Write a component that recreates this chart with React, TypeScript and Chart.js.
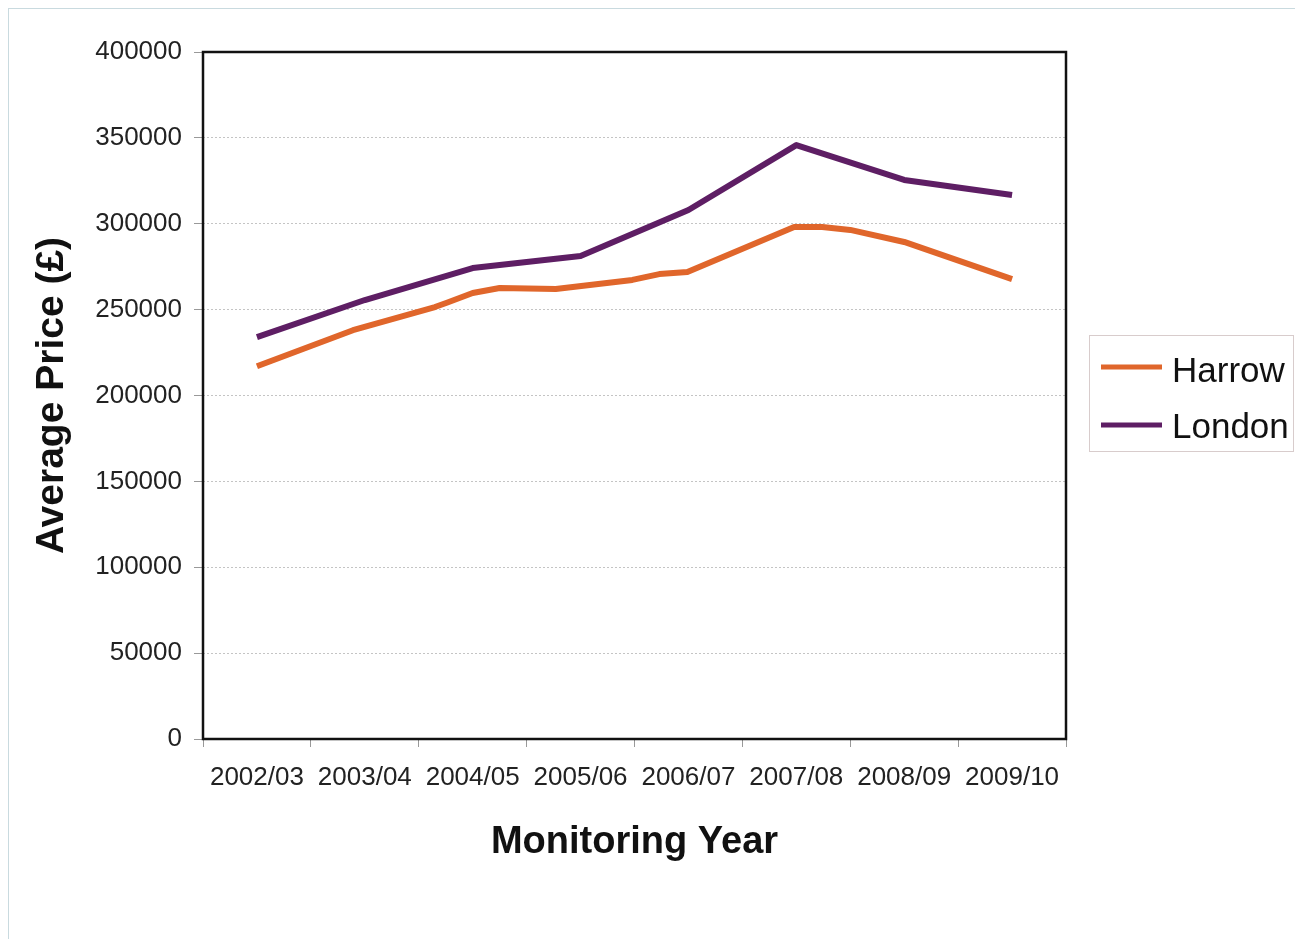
import React, { useEffect, useRef } from "react";
import { Chart, registerables } from "chart.js";

Chart.register(...registerables);

const categories = ["2002/03", "2003/04", "2004/05", "2005/06", "2006/07", "2007/08", "2008/09", "2009/10"];

const londonValues = [234000, 255600, 274200, 281200, 308000, 345800, 325500, 316700];

// Harrow line has extra vertices between the years (positions in category-index units)
const harrowPositions = [0, 0.89, 1.65, 1.76, 2.0, 2.25, 2.77, 3.48, 3.73, 3.99, 4.98, 5.24, 5.5, 6.0, 7.0];
const harrowValues = [217000, 238000, 251500, 254000, 259700, 262600, 262000, 267300, 270700, 271900, 298100, 298100, 296400, 289400, 267800];

const yTicks = [0, 50000, 100000, 150000, 200000, 250000, 300000, 350000, 400000];

const seriesNames = ["Harrow", "London"];
const seriesColors = ["#E0662B", "#5E1E64"];

const FONT = "'Liberation Sans', Arial, Helvetica, sans-serif";

const W = 1286;
const H = 930;

export default function App() {
  const ref = useRef<HTMLCanvasElement | null>(null);

  useEffect(() => {
    if (!ref.current) return;

    const frameAndLegend = {
      id: "frameAndLegend",
      afterDatasetsDraw(chart: any) {
        const { ctx, chartArea } = chart;
        ctx.save();
        ctx.strokeStyle = "#111";
        ctx.lineWidth = 2.5;
        ctx.strokeRect(chartArea.left, chartArea.top, chartArea.right - chartArea.left, chartArea.bottom - chartArea.top);
        ctx.restore();
      },
      afterDraw(chart: any) {
        const { ctx } = chart;
        ctx.save();
        const bx = 1080.5, by = 326.5, bw = 204, bh = 116;
        ctx.strokeStyle = "#d8cccc";
        ctx.lineWidth = 1;
        ctx.strokeRect(bx, by, bw, bh);
        const rows = [
          { line: 358, text: 363 },
          { line: 416, text: 419 },
        ];
        seriesNames.forEach((name, i) => {
          ctx.strokeStyle = seriesColors[i];
          ctx.lineWidth = 5;
          ctx.beginPath();
          ctx.moveTo(1092, rows[i].line);
          ctx.lineTo(1153, rows[i].line);
          ctx.stroke();
          ctx.fillStyle = "#111";
          ctx.font = `35px ${FONT}`;
          ctx.textAlign = "left";
          ctx.textBaseline = "middle";
          ctx.fillText(name, 1163, rows[i].text);
        });
        ctx.restore();
      },
    };

    const chart = new Chart(ref.current, {
      type: "line",
      data: {
        labels: categories,
        datasets: [
          {
            label: seriesNames[0],
            data: harrowPositions.map((p, i) => ({ x: p, y: harrowValues[i] })),
            borderColor: seriesColors[0],
            backgroundColor: seriesColors[0],
            borderWidth: 6,
            pointRadius: 0,
            tension: 0,
            borderJoinStyle: "round",
            xAxisID: "xv",
            yAxisID: "y",
          },
          {
            label: seriesNames[1],
            data: londonValues.map((v, i) => ({ x: i, y: v })),
            borderColor: seriesColors[1],
            backgroundColor: seriesColors[1],
            borderWidth: 6,
            pointRadius: 0,
            tension: 0,
            borderJoinStyle: "round",
            xAxisID: "xv",
            yAxisID: "y",
          },
        ],
      },
      options: {
        responsive: false,
        animation: false,
        layout: { padding: { left: 0, top: 43, right: W - 1057, bottom: 0 } },
        plugins: {
          legend: { display: false },
          tooltip: { enabled: false },
        },
        scales: {
          xv: {
            type: "linear",
            display: false,
            min: -0.5,
            max: categories.length - 0.5,
          },
          x: {
            type: "category",
            position: "bottom",
            offset: true,
            grid: {
              offset: true,
              drawOnChartArea: false,
              drawTicks: true,
              tickLength: 8,
              tickColor: "#999",
              tickWidth: 1,
            },
            border: { display: false },
            ticks: {
              autoSkip: false,
              maxRotation: 0,
              minRotation: 0,
              padding: 15,
              color: "#222",
              font: { family: FONT, size: 26 },
            },
            title: {
              display: true,
              text: "Monitoring Year",
              color: "#111",
              font: { family: FONT, size: 38, weight: "bold" },
              padding: { top: 0, bottom: 74 },
            },
            afterFit(scale: any) {
              scale.height = H - 730;
            },
          },
          y: {
            type: "linear",
            position: "left",
            min: 0,
            max: 400000,
            afterBuildTicks(scale: any) {
              scale.ticks = yTicks.map((v) => ({ value: v }));
            },
            grid: {
              color: "#c4c4c4",
              lineWidth: 1,
              tickLength: 9,
              tickColor: "#999",
              tickWidth: 1,
              tickBorderDash: [],
            },
            border: { display: false, dash: [2, 2] },
            ticks: {
              padding: 12,
              color: "#222",
              font: { family: FONT, size: 26 },
              callback: (v: any) => String(v),
            },
            title: {
              display: true,
              text: "Average Price (£)",
              color: "#111",
              font: { family: FONT, size: 39, weight: "bold" },
              padding: { top: 20, bottom: 0 },
            },
            afterFit(scale: any) {
              scale.width = 194;
            },
          },
        },
      },
      plugins: [frameAndLegend],
    } as any);

    return () => chart.destroy();
  }, []);

  return (
    <div
      style={{
        width: W,
        height: H,
        borderTop: "1px solid #c9dadf",
        borderLeft: "1px solid #c9dadf",
        overflow: "hidden",
      }}
    >
      <canvas ref={ref} width={W} height={H} style={{ display: "block", width: W, height: H }} />
    </div>
  );
}
